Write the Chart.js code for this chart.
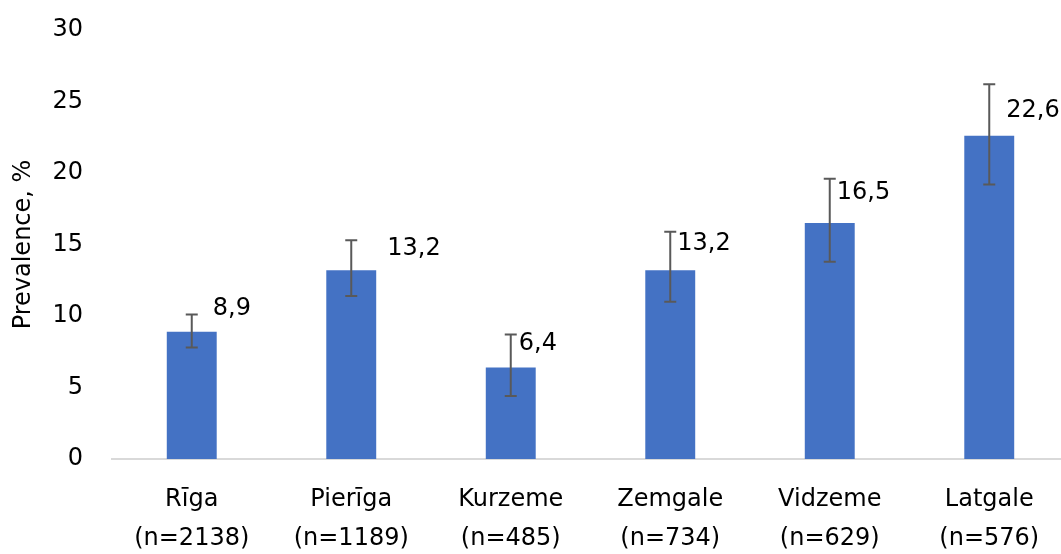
<!DOCTYPE html>
<html lang="lv">
<head>
<meta charset="UTF-8">
<title>Prevalence by region</title>
<script src="https://cdn.jsdelivr.net/npm/chart.js"></script>
<style>
    html, body { margin: 0; padding: 0; background: #fff; overflow: hidden; }
    #wrap { width: 1070px; height: 554px; }
</style>
</head>
<body>
<div id="wrap"><canvas id="chart" width="1070" height="554"></canvas></div>
<script>
// Dati
const regions = ['Rīga', 'Pierīga', 'Kurzeme', 'Zemgale', 'Vidzeme', 'Latgale'];
const sampleSizes = ['(n=2138)', '(n=1189)', '(n=485)', '(n=734)', '(n=629)', '(n=576)'];
const prevalence = [8.9, 13.2, 6.4, 13.2, 16.5, 22.6];
const ciLower = [7.8, 11.4, 4.4, 11.0, 13.8, 19.2];
const ciUpper = [10.1, 15.3, 8.7, 15.9, 19.6, 26.2];
const yTicks = [0, 5, 10, 15, 20, 25, 30];

const FONT = '"DejaVu Sans"';
const labels = regions.map((r, i) => [r, sampleSizes[i]]);

// error bars + value labels
const errorBars = {
    id: 'errorBars',
    afterDatasetsDraw(chart, args, opts) {
        const ctx = chart.ctx;
        const y = chart.scales.y;
        const meta = chart.getDatasetMeta(0);
        ctx.save();
        ctx.strokeStyle = '#595959';
        ctx.lineWidth = 2;
        meta.data.forEach((bar, i) => {
            const x = bar.x;
            const top = y.getPixelForValue(ciUpper[i]);
            const bot = y.getPixelForValue(ciLower[i]);
            ctx.beginPath();
            ctx.moveTo(x, top); ctx.lineTo(x, bot);
            ctx.moveTo(x - 6, top); ctx.lineTo(x + 6, top);
            ctx.moveTo(x - 6, bot); ctx.lineTo(x + 6, bot);
            ctx.stroke();
        });
        ctx.fillStyle = '#000';
        ctx.font = '24px ' + FONT;
        ctx.textAlign = 'left';
        ctx.textBaseline = 'middle';
        meta.data.forEach((bar, i) => {
            const off = opts.offsets[i];
            ctx.fillText(prevalence[i].toFixed(1).replace('.', ','), bar.x + off[0], bar.y + off[1]);
        });
        ctx.restore();
    }
};

new Chart(document.getElementById('chart'), {
    type: 'bar',
    data: {
        labels: labels,
        datasets: [{
            data: prevalence,
            backgroundColor: '#4472C4',
            borderWidth: 0,
            categoryPercentage: 1,
            barPercentage: 0.313
        }]
    },
    options: {
        responsive: false,
        animation: false,
        layout: { padding: { top: 30, right: 1, left: 0, bottom: 0 } },
        plugins: {
            legend: { display: false },
            tooltip: { enabled: false },
            errorBars: { offsets: [[21, -23], [36, -21], [8, -24], [7, -26], [7, -30], [17, -25]] }
        },
        scales: {
            x: {
                grid: { display: false, drawTicks: false },
                border: { display: true, color: '#d9d9d9', width: 2 },
                ticks: {
                    color: '#000',
                    font: { family: FONT, size: 24, lineHeight: 1.6 },
                    padding: 22,
                    maxRotation: 0,
                    autoSkip: false
                },
                afterFit(scale) { scale.height = 95; }
            },
            y: {
                min: 0,
                max: 30,
                afterBuildTicks(scale) { scale.ticks = yTicks.map(v => ({ value: v })); },
                grid: { display: false, drawTicks: false },
                border: { display: false },
                ticks: {
                    color: '#000',
                    font: { family: FONT, size: 24 },
                    padding: 29
                },
                title: {
                    display: true,
                    text: 'Prevalence, %',
                    color: '#000',
                    font: { family: FONT, size: 24 },
                    padding: { top: 9, bottom: 0 }
                },
                afterFit(scale) {
                    scale.width = 112;
                    scale.paddingTop = 0;
                    scale.paddingBottom = 0;
                }
            }
        }
    },
    plugins: [errorBars]
});
</script>
</body>
</html>
